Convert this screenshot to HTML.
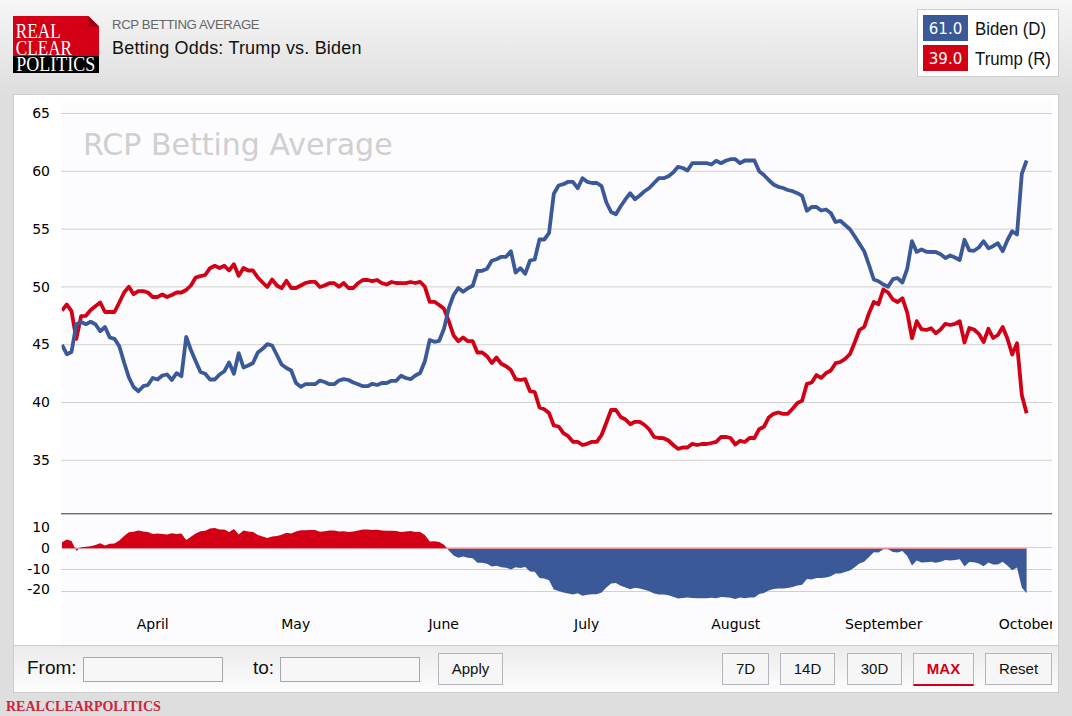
<!DOCTYPE html>
<html><head><meta charset="utf-8"><title>Betting Odds: Trump vs. Biden</title>
<style>
html,body{margin:0;padding:0;}
body{width:1072px;height:716px;overflow:hidden;position:relative;font-family:"Liberation Sans",Arial,sans-serif;background:#dedede;}
#hdr{position:absolute;left:0;top:0;width:1072px;height:94px;background:linear-gradient(#f6f6f6,#dedede);}
#logo{position:absolute;left:13px;top:16px;width:86px;height:57px;}
#sub{position:absolute;left:112px;top:17px;font-size:13.2px;letter-spacing:-0.36px;line-height:16px;color:#666;white-space:nowrap;}
#ttl{position:absolute;left:112px;top:37px;font-size:18px;letter-spacing:0.19px;line-height:22px;color:#111;white-space:nowrap;}
#leg{position:absolute;left:917px;top:9px;width:140px;height:66px;background:#fff;border:1px solid #ccc;}
.sw{position:absolute;left:5px;width:45px;height:26px;color:#fff;font-family:"DejaVu Sans",Verdana,sans-serif;font-size:15px;line-height:28px;text-align:center;}
.ln{position:absolute;left:57px;font-size:18px;line-height:26px;color:#111;white-space:nowrap;transform:scaleX(.934);transform-origin:0 0;margin-top:1px;}
#panel{position:absolute;left:13px;top:94px;width:1044px;height:597px;background:#fff;border:1px solid #ccc;}
#plot{position:absolute;left:62px;top:101px;width:990px;height:544px;background:#fcfcfe;}
svg#ch{position:absolute;left:0;top:0;}
.ax{font-family:"DejaVu Sans",Verdana,sans-serif;font-size:14px;fill:#000;}
#bar{position:absolute;left:14px;top:645px;width:1044px;height:46px;border-top:1px solid #cdcdcd;background:linear-gradient(#ebebeb,#fdfdfd);}
.lb{position:absolute;font-size:19px;line-height:24px;color:#111;}
.inp{position:absolute;top:657px;width:138px;height:23px;border:1px solid #a6a6ae;background:#f7f7f7;}
.btn{position:absolute;top:653px;height:30px;border:1px solid #b4b4bc;background:#f6f6f6;font-size:15px;line-height:30px;text-align:center;color:#111;box-sizing:content-box;}
#foot{position:absolute;left:6px;top:699px;font-family:"Liberation Serif","Times New Roman",serif;font-weight:bold;font-size:14px;line-height:16px;color:#d0243a;white-space:nowrap;}
</style></head><body>
<div id="hdr"></div>
<svg id="logo" viewBox="0 0 86 57">
<path d="M0 0H75.4L86 10.6V40H0Z" fill="#d30015"/>
<path d="M75.4 0L86 10.6H75.4Z" fill="#9c0010"/>
<rect x="0" y="40" width="86" height="17" fill="#000"/>
<text x="2.8" y="21.7" font-family="Liberation Serif,serif" font-size="20" fill="#fff" textLength="45" lengthAdjust="spacingAndGlyphs">REAL</text>
<text x="2.8" y="38.8" font-family="Liberation Serif,serif" font-size="20" fill="#fff" textLength="56.2" lengthAdjust="spacingAndGlyphs">CLEAR</text>
<text x="3.3" y="55.4" font-family="Liberation Serif,serif" font-size="20" fill="#fff" textLength="79" lengthAdjust="spacingAndGlyphs">POLITICS</text>
</svg>
<div id="sub">RCP BETTING AVERAGE</div>
<div id="ttl">Betting Odds: Trump vs. Biden</div>
<div id="leg">
<div class="sw" style="top:5px;background:#3b5998">61.0</div><div class="ln" style="top:5px">Biden (D)</div>
<div class="sw" style="top:35px;background:#d30015">39.0</div><div class="ln" style="top:35px">Trump (R)</div>
</div>
<div id="panel"></div>
<div id="plot"></div>
<div id="bar"></div>
<svg id="ch" width="1072" height="716" viewBox="0 0 1072 716">
<text x="83" y="155" font-family="DejaVu Sans,Verdana,sans-serif" font-size="30" fill="#cfcfcf">RCP Betting Average</text>
<line x1="61" x2="1052" y1="113.5" y2="113.5" stroke="#d0d0d0" stroke-width="1"/>
<text x="50" y="118.1" text-anchor="end" class="ax">65</text>
<line x1="61" x2="1052" y1="171.3" y2="171.3" stroke="#d0d0d0" stroke-width="1"/>
<text x="50" y="175.9" text-anchor="end" class="ax">60</text>
<line x1="61" x2="1052" y1="229.1" y2="229.1" stroke="#d0d0d0" stroke-width="1"/>
<text x="50" y="233.7" text-anchor="end" class="ax">55</text>
<line x1="61" x2="1052" y1="286.9" y2="286.9" stroke="#d0d0d0" stroke-width="1"/>
<text x="50" y="291.5" text-anchor="end" class="ax">50</text>
<line x1="61" x2="1052" y1="344.7" y2="344.7" stroke="#d0d0d0" stroke-width="1"/>
<text x="50" y="349.3" text-anchor="end" class="ax">45</text>
<line x1="61" x2="1052" y1="402.5" y2="402.5" stroke="#d0d0d0" stroke-width="1"/>
<text x="50" y="407.1" text-anchor="end" class="ax">40</text>
<line x1="61" x2="1052" y1="460.3" y2="460.3" stroke="#d0d0d0" stroke-width="1"/>
<text x="50" y="464.9" text-anchor="end" class="ax">35</text>
<text x="50" y="531.6" text-anchor="end" class="ax">10</text>
<line x1="61" x2="1052" y1="547.5" y2="547.5" stroke="#d0d0d0" stroke-width="1"/>
<text x="50" y="553.3" text-anchor="end" class="ax">0</text>
<line x1="61" x2="1052" y1="569.5" y2="569.5" stroke="#d0d0d0" stroke-width="1"/>
<text x="50" y="573.8" text-anchor="end" class="ax">-10</text>
<line x1="61" x2="1052" y1="591.5" y2="591.5" stroke="#d0d0d0" stroke-width="1"/>
<text x="50" y="593.6" text-anchor="end" class="ax">-20</text>

<line x1="61" x2="1052" y1="513.5" y2="513.5" stroke="#6c6c6c" stroke-width="1"/>
<line x1="61" x2="1052" y1="514.5" y2="514.5" stroke="#c4c4c4" stroke-width="1"/>
<clipPath id="cm"><rect x="62" y="600" width="990" height="45"/></clipPath>
<clipPath id="cl"><rect x="61.6" y="100" width="991" height="410"/></clipPath>
<clipPath id="cu"><rect x="62" y="500" width="990" height="48"/></clipPath>
<clipPath id="cd"><rect x="62" y="548" width="990" height="80"/></clipPath>
<path d="M62.0 548.3 L62.0 542.2 L66.8 539.5 L71.5 541.1 L76.3 550.9 L81.1 547.3 L85.9 546.8 L90.7 546.2 L95.4 545.1 L100.2 543.2 L105.0 545.6 L109.8 543.8 L114.5 543.5 L119.3 540.5 L124.1 535.9 L128.9 532.2 L133.6 531.8 L138.4 530.5 L143.2 531.4 L147.9 531.9 L152.7 533.9 L157.5 533.6 L162.3 533.9 L167.1 534.5 L171.8 533.2 L176.6 534.0 L181.4 533.4 L186.2 540.0 L190.9 536.8 L195.7 533.4 L200.5 531.3 L205.2 530.8 L210.0 528.5 L214.8 528.1 L219.6 529.4 L224.4 529.6 L229.1 532.0 L233.9 528.9 L238.7 534.5 L243.5 530.6 L248.2 531.4 L253.0 531.9 L257.8 535.0 L262.6 536.5 L267.3 538.1 L272.1 536.6 L276.9 536.0 L281.6 534.8 L286.4 532.8 L291.2 533.6 L296.0 531.4 L300.8 530.3 L305.5 530.3 L310.3 530.1 L315.1 530.1 L319.9 531.7 L324.6 531.2 L329.4 530.4 L334.2 530.4 L339.0 531.6 L343.7 531.2 L348.5 532.0 L353.3 531.5 L358.1 530.4 L362.8 529.4 L367.6 529.4 L372.4 530.1 L377.2 529.7 L381.9 530.6 L386.7 530.8 L391.5 530.8 L396.2 530.9 L401.0 531.9 L405.8 531.5 L410.6 531.0 L415.4 531.9 L420.1 532.1 L424.9 535.1 L429.7 541.5 L434.5 541.2 L439.2 542.0 L444.0 544.7 L448.8 550.6 L453.6 555.5 L458.3 557.8 L463.1 556.4 L467.9 557.7 L472.7 558.2 L477.4 562.8 L482.2 562.8 L487.0 563.8 L491.8 566.5 L496.5 565.8 L501.3 567.3 L506.1 567.7 L510.9 569.4 L515.6 567.3 L520.4 568.1 L525.2 567.0 L530.0 571.5 L534.7 571.8 L539.5 578.1 L544.3 578.5 L549.0 580.2 L553.8 589.5 L558.6 591.1 L563.4 592.5 L568.2 593.5 L572.9 594.5 L577.7 593.3 L582.5 595.7 L587.2 594.8 L592.0 594.3 L596.8 594.3 L601.6 592.5 L606.4 587.4 L611.1 583.5 L615.9 583.1 L620.7 585.7 L625.5 587.4 L630.2 589.3 L635.0 587.8 L639.8 588.5 L644.6 589.8 L649.3 591.2 L654.1 593.4 L658.9 594.4 L663.7 594.5 L668.4 595.2 L673.2 596.7 L678.0 598.4 L682.8 597.9 L687.5 597.5 L692.3 598.1 L697.1 598.3 L701.9 598.2 L706.6 598.2 L711.4 597.8 L716.2 598.2 L721.0 596.9 L725.7 597.3 L730.5 597.8 L735.3 599.0 L740.1 597.6 L744.8 598.3 L749.6 597.6 L754.4 597.6 L759.2 594.1 L763.9 593.0 L768.7 590.5 L773.5 589.0 L778.2 588.4 L783.0 588.4 L787.8 588.0 L792.6 586.9 L797.4 585.6 L802.1 584.7 L806.9 579.0 L811.7 579.5 L816.5 578.1 L821.2 578.1 L826.0 577.4 L830.8 576.3 L835.6 573.4 L840.3 573.4 L845.1 572.1 L849.9 570.5 L854.7 567.2 L859.4 563.6 L864.2 561.8 L869.0 556.9 L873.8 552.3 L878.5 552.4 L883.3 549.2 L888.1 549.3 L892.9 551.9 L897.6 552.5 L902.4 551.1 L907.2 556.1 L912.0 565.5 L916.7 560.6 L921.5 562.5 L926.3 562.2 L931.1 561.8 L935.8 562.7 L940.6 561.7 L945.4 560.0 L950.2 560.6 L954.9 560.1 L959.7 559.2 L964.5 566.5 L969.3 562.1 L974.0 562.3 L978.8 563.6 L983.6 566.2 L988.4 562.6 L993.1 564.6 L997.9 564.6 L1002.7 561.8 L1007.5 565.8 L1012.2 570.2 L1017.0 567.6 L1021.8 587.6 L1026.6 593.2 L1026.6 548.3 Z" fill="#d30015" clip-path="url(#cu)"/>
<path d="M62.0 548.3 L62.0 542.2 L66.8 539.5 L71.5 541.1 L76.3 550.9 L81.1 547.3 L85.9 546.8 L90.7 546.2 L95.4 545.1 L100.2 543.2 L105.0 545.6 L109.8 543.8 L114.5 543.5 L119.3 540.5 L124.1 535.9 L128.9 532.2 L133.6 531.8 L138.4 530.5 L143.2 531.4 L147.9 531.9 L152.7 533.9 L157.5 533.6 L162.3 533.9 L167.1 534.5 L171.8 533.2 L176.6 534.0 L181.4 533.4 L186.2 540.0 L190.9 536.8 L195.7 533.4 L200.5 531.3 L205.2 530.8 L210.0 528.5 L214.8 528.1 L219.6 529.4 L224.4 529.6 L229.1 532.0 L233.9 528.9 L238.7 534.5 L243.5 530.6 L248.2 531.4 L253.0 531.9 L257.8 535.0 L262.6 536.5 L267.3 538.1 L272.1 536.6 L276.9 536.0 L281.6 534.8 L286.4 532.8 L291.2 533.6 L296.0 531.4 L300.8 530.3 L305.5 530.3 L310.3 530.1 L315.1 530.1 L319.9 531.7 L324.6 531.2 L329.4 530.4 L334.2 530.4 L339.0 531.6 L343.7 531.2 L348.5 532.0 L353.3 531.5 L358.1 530.4 L362.8 529.4 L367.6 529.4 L372.4 530.1 L377.2 529.7 L381.9 530.6 L386.7 530.8 L391.5 530.8 L396.2 530.9 L401.0 531.9 L405.8 531.5 L410.6 531.0 L415.4 531.9 L420.1 532.1 L424.9 535.1 L429.7 541.5 L434.5 541.2 L439.2 542.0 L444.0 544.7 L448.8 550.6 L453.6 555.5 L458.3 557.8 L463.1 556.4 L467.9 557.7 L472.7 558.2 L477.4 562.8 L482.2 562.8 L487.0 563.8 L491.8 566.5 L496.5 565.8 L501.3 567.3 L506.1 567.7 L510.9 569.4 L515.6 567.3 L520.4 568.1 L525.2 567.0 L530.0 571.5 L534.7 571.8 L539.5 578.1 L544.3 578.5 L549.0 580.2 L553.8 589.5 L558.6 591.1 L563.4 592.5 L568.2 593.5 L572.9 594.5 L577.7 593.3 L582.5 595.7 L587.2 594.8 L592.0 594.3 L596.8 594.3 L601.6 592.5 L606.4 587.4 L611.1 583.5 L615.9 583.1 L620.7 585.7 L625.5 587.4 L630.2 589.3 L635.0 587.8 L639.8 588.5 L644.6 589.8 L649.3 591.2 L654.1 593.4 L658.9 594.4 L663.7 594.5 L668.4 595.2 L673.2 596.7 L678.0 598.4 L682.8 597.9 L687.5 597.5 L692.3 598.1 L697.1 598.3 L701.9 598.2 L706.6 598.2 L711.4 597.8 L716.2 598.2 L721.0 596.9 L725.7 597.3 L730.5 597.8 L735.3 599.0 L740.1 597.6 L744.8 598.3 L749.6 597.6 L754.4 597.6 L759.2 594.1 L763.9 593.0 L768.7 590.5 L773.5 589.0 L778.2 588.4 L783.0 588.4 L787.8 588.0 L792.6 586.9 L797.4 585.6 L802.1 584.7 L806.9 579.0 L811.7 579.5 L816.5 578.1 L821.2 578.1 L826.0 577.4 L830.8 576.3 L835.6 573.4 L840.3 573.4 L845.1 572.1 L849.9 570.5 L854.7 567.2 L859.4 563.6 L864.2 561.8 L869.0 556.9 L873.8 552.3 L878.5 552.4 L883.3 549.2 L888.1 549.3 L892.9 551.9 L897.6 552.5 L902.4 551.1 L907.2 556.1 L912.0 565.5 L916.7 560.6 L921.5 562.5 L926.3 562.2 L931.1 561.8 L935.8 562.7 L940.6 561.7 L945.4 560.0 L950.2 560.6 L954.9 560.1 L959.7 559.2 L964.5 566.5 L969.3 562.1 L974.0 562.3 L978.8 563.6 L983.6 566.2 L988.4 562.6 L993.1 564.6 L997.9 564.6 L1002.7 561.8 L1007.5 565.8 L1012.2 570.2 L1017.0 567.6 L1021.8 587.6 L1026.6 593.2 L1026.6 548.3 Z" fill="#3b5998" clip-path="url(#cd)"/>
<line x1="62" x2="1026.6" y1="548.5" y2="548.5" stroke="#e58f98" stroke-width="1"/>
<text x="152.7" y="629" text-anchor="middle" class="ax" clip-path="url(#cm)">April</text>
<text x="295.7" y="629" text-anchor="middle" class="ax" clip-path="url(#cm)">May</text>
<text x="443.7" y="629" text-anchor="middle" class="ax" clip-path="url(#cm)">June</text>
<text x="586.7" y="629" text-anchor="middle" class="ax" clip-path="url(#cm)">July</text>
<text x="735.7" y="629" text-anchor="middle" class="ax" clip-path="url(#cm)">August</text>
<text x="883.7" y="629" text-anchor="middle" class="ax" clip-path="url(#cm)">September</text>
<text x="1026.7" y="629" text-anchor="middle" class="ax" clip-path="url(#cm)">October</text>

<path d="M62.0 310.5 L66.8 304.5 L71.5 311.2 L76.3 338.8 L81.1 316.2 L85.9 315.8 L90.7 310.0 L95.4 306.2 L100.2 302.5 L105.0 312.0 L109.8 312.0 L114.5 312.0 L119.3 302.5 L124.1 292.5 L128.9 286.8 L133.6 294.2 L138.4 291.2 L143.2 291.2 L147.9 292.5 L152.7 297.0 L157.5 297.0 L162.3 294.5 L167.1 297.0 L171.8 295.0 L176.6 292.5 L181.4 292.5 L186.2 290.0 L190.9 285.5 L195.7 277.5 L200.5 276.2 L205.2 275.0 L210.0 268.2 L214.8 265.8 L219.6 268.0 L224.4 265.8 L229.1 270.5 L233.9 264.2 L238.7 275.8 L243.5 268.0 L248.2 270.5 L253.0 270.5 L257.8 277.5 L262.6 282.5 L267.3 287.0 L272.1 279.5 L276.9 285.5 L281.6 288.2 L286.4 280.8 L291.2 288.0 L296.0 288.0 L300.8 285.5 L305.5 283.0 L310.3 281.9 L315.1 281.9 L319.9 287.0 L324.6 285.5 L329.4 283.2 L334.2 283.2 L339.0 286.8 L343.7 283.0 L348.5 288.0 L353.3 288.0 L358.1 283.2 L362.8 280.0 L367.6 280.0 L372.4 281.2 L377.2 280.0 L381.9 283.2 L386.7 284.5 L391.5 282.0 L396.2 283.0 L401.0 283.2 L405.8 283.2 L410.6 282.0 L415.4 283.0 L420.1 281.8 L424.9 286.8 L429.7 301.8 L434.5 301.8 L439.2 305.0 L444.0 308.8 L448.8 321.2 L453.6 335.5 L458.3 341.2 L463.1 337.5 L467.9 341.2 L472.7 341.2 L477.4 352.5 L482.2 352.5 L487.0 356.2 L491.8 363.0 L496.5 357.5 L501.3 363.8 L506.1 366.2 L510.9 370.0 L515.6 379.2 L520.4 380.0 L525.2 379.2 L530.0 391.2 L534.7 392.0 L539.5 407.5 L544.3 409.2 L549.0 413.0 L553.8 425.5 L558.6 426.5 L563.4 433.1 L568.2 436.2 L572.9 441.8 L577.7 441.8 L582.5 445.0 L587.2 443.8 L592.0 441.8 L596.8 441.8 L601.6 435.0 L606.4 422.5 L611.1 410.0 L615.9 410.0 L620.7 417.0 L625.5 419.5 L630.2 424.2 L635.0 421.8 L639.8 421.8 L644.6 425.0 L649.3 429.5 L654.1 437.0 L658.9 438.0 L663.7 438.2 L668.4 440.5 L673.2 445.0 L678.0 448.8 L682.8 447.5 L687.5 447.5 L692.3 443.8 L697.1 445.0 L701.9 444.0 L706.6 444.0 L711.4 443.0 L716.2 441.8 L721.0 437.0 L725.7 436.8 L730.5 438.0 L735.3 444.5 L740.1 440.8 L744.8 442.0 L749.6 438.0 L754.4 438.0 L759.2 429.2 L763.9 426.8 L768.7 417.5 L773.5 413.8 L778.2 412.5 L783.0 413.8 L787.8 413.8 L792.6 408.8 L797.4 403.0 L802.1 400.8 L806.9 383.8 L811.7 382.5 L816.5 375.0 L821.2 378.0 L826.0 373.2 L830.8 370.5 L835.6 363.2 L840.3 362.0 L845.1 358.8 L849.9 354.2 L854.7 342.5 L859.4 330.0 L864.2 327.0 L869.0 313.2 L873.8 302.0 L878.5 304.2 L883.3 289.5 L888.1 292.5 L892.9 299.5 L897.6 302.0 L902.4 298.2 L907.2 312.5 L912.0 338.2 L916.7 321.2 L921.5 329.2 L926.3 330.0 L931.1 328.2 L935.8 333.2 L940.6 329.5 L945.4 323.8 L950.2 325.0 L954.9 323.8 L959.7 321.2 L964.5 342.5 L969.3 328.0 L974.0 329.5 L978.8 333.8 L983.6 342.0 L988.4 328.8 L993.1 338.0 L997.9 335.0 L1002.7 327.0 L1007.5 338.8 L1012.2 354.5 L1017.0 343.2 L1021.8 395.0 L1026.6 413.2" fill="none" stroke="#d30015" stroke-width="3.8" stroke-linejoin="round" stroke-linecap="butt" clip-path="url(#cl)"/>
<path d="M62.0 345.0 L66.8 354.2 L71.5 352.0 L76.3 324.2 L81.1 322.0 L85.9 324.2 L90.7 321.8 L95.4 324.2 L100.2 331.2 L105.0 327.0 L109.8 337.5 L114.5 338.8 L119.3 346.2 L124.1 362.5 L128.9 377.5 L133.6 387.0 L138.4 391.2 L143.2 386.2 L147.9 385.0 L152.7 378.0 L157.5 379.5 L162.3 375.5 L167.1 374.5 L171.8 380.0 L176.6 373.2 L181.4 376.2 L186.2 337.0 L190.9 350.0 L195.7 361.2 L200.5 372.0 L205.2 373.8 L210.0 379.5 L214.8 379.5 L219.6 374.5 L224.4 371.2 L229.1 362.5 L233.9 373.8 L238.7 353.2 L243.5 367.5 L248.2 365.5 L253.0 363.0 L257.8 352.5 L262.6 348.8 L267.3 344.2 L272.1 345.5 L276.9 355.0 L281.6 364.5 L286.4 368.0 L291.2 370.5 L296.0 383.0 L300.8 386.8 L305.5 384.2 L310.3 384.2 L315.1 384.2 L319.9 380.6 L324.6 382.0 L329.4 384.2 L334.2 384.2 L339.0 380.5 L343.7 379.2 L348.5 380.0 L353.3 382.5 L358.1 384.2 L362.8 386.2 L367.6 386.2 L372.4 383.8 L377.2 385.0 L381.9 383.0 L386.7 383.0 L391.5 380.8 L396.2 380.8 L401.0 375.8 L405.8 378.0 L410.6 379.2 L415.4 375.5 L420.1 373.0 L424.9 361.2 L429.7 340.0 L434.5 341.8 L439.2 340.8 L444.0 328.8 L448.8 308.1 L453.6 295.0 L458.3 288.0 L463.1 291.8 L467.9 288.2 L472.7 285.8 L477.4 271.0 L482.2 270.8 L487.0 268.8 L491.8 260.8 L496.5 259.2 L501.3 256.8 L506.1 256.8 L510.9 251.2 L515.6 272.5 L520.4 268.2 L525.2 273.8 L530.0 260.5 L534.7 259.5 L539.5 239.5 L544.3 239.5 L549.0 233.2 L553.8 193.8 L558.6 185.5 L563.4 184.2 L568.2 181.8 L572.9 181.8 L577.7 188.2 L582.5 178.2 L587.2 181.8 L592.0 183.0 L596.8 183.0 L601.6 186.2 L606.4 202.5 L611.1 212.0 L615.9 214.2 L620.7 206.2 L625.5 199.2 L630.2 193.2 L635.0 199.2 L639.8 195.5 L644.6 191.2 L649.3 188.0 L654.1 183.0 L658.9 178.2 L663.7 178.2 L668.4 176.2 L673.2 172.5 L678.0 166.8 L682.8 168.0 L687.5 170.5 L692.3 163.2 L697.1 163.2 L701.9 163.2 L706.6 163.2 L711.4 164.5 L716.2 160.8 L721.0 163.2 L725.7 160.8 L730.5 159.2 L735.3 159.2 L740.1 163.2 L744.8 160.5 L749.6 160.5 L754.4 160.5 L759.2 171.2 L763.9 175.0 L768.7 180.0 L773.5 184.5 L778.2 186.8 L783.0 188.0 L787.8 190.0 L792.6 191.2 L797.4 193.2 L802.1 195.8 L806.9 210.8 L811.7 207.0 L816.5 207.0 L821.2 210.5 L826.0 209.5 L830.8 213.0 L835.6 222.0 L840.3 220.8 L845.1 225.0 L849.9 229.2 L854.7 236.2 L859.4 243.8 L864.2 251.2 L869.0 265.0 L873.8 279.5 L878.5 281.2 L883.3 284.5 L888.1 286.8 L892.9 279.2 L897.6 278.2 L902.4 282.5 L907.2 268.8 L912.0 241.2 L916.7 251.9 L921.5 249.5 L926.3 251.8 L931.1 252.0 L935.8 252.0 L940.6 254.2 L945.4 258.0 L950.2 255.5 L954.9 257.5 L959.7 260.0 L964.5 239.8 L969.3 250.4 L974.0 250.8 L978.8 247.5 L983.6 241.2 L988.4 248.2 L993.1 246.2 L997.9 243.2 L1002.7 251.2 L1007.5 240.0 L1012.2 231.2 L1017.0 234.5 L1021.8 173.8 L1026.6 160.5" fill="none" stroke="#3b5998" stroke-width="3.8" stroke-linejoin="round" stroke-linecap="butt" clip-path="url(#cl)"/>
</svg>
<div class="lb" style="left:27px;top:655.7px">From:</div>
<div class="inp" style="left:83px"></div>
<div class="lb" style="left:253px;top:655.7px">to:</div>
<div class="inp" style="left:280px"></div>
<div class="btn" style="left:438px;width:63px">Apply</div>
<div class="btn" style="left:722px;width:45px">7D</div>
<div class="btn" style="left:780px;width:53px">14D</div>
<div class="btn" style="left:847px;width:53px">30D</div>
<div class="btn" style="left:913px;width:59px;color:#d30015;font-weight:bold;border-bottom:2px solid #d30015;height:30px">MAX</div>
<div class="btn" style="left:985px;width:65px">Reset</div>
<div id="foot">REALCLEARPOLITICS</div>
</body></html>
